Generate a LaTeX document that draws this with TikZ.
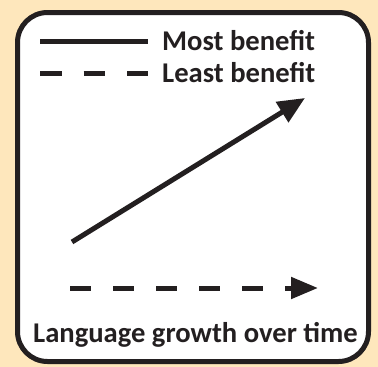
\documentclass[tikz,border=0pt]{standalone}
\usepackage{fontspec}
\setmainfont{Carlito}
\usetikzlibrary{arrows.meta}
\definecolor{bgbeige}{HTML}{FEE7BC}
\definecolor{ink}{HTML}{231F20}
\tikzset{
  lbl/.style={font=\bfseries\fontsize{28.6}{31}\selectfont, text=ink, inner sep=0pt},
  thick line/.style={draw=ink, line width=5pt},
  dashline/.style={thick line, dash pattern=on 21pt off 22pt},
  bigtip/.style={-{Triangle[length=27pt,width=23pt]}}
}
\begin{document}
\begin{tikzpicture}[x=1pt,y=-1pt]
\useasboundingbox (0,0) rectangle (378,367);
\fill[bgbeige] (0,0) rectangle (378,367);
\draw[ink, fill=white, line width=5pt, rounded corners=30pt] (17.5,12.5) rectangle (368.5,361.5);
% legend
\coordinate (s1) at (40,41);
\coordinate (s2) at (148,41);
\coordinate (d1) at (40,73);
\coordinate (d2) at (148,73);
\draw[thick line] (s1) -- (s2);
\draw[thick line, dash pattern=on 21.5pt off 22pt] (d1) -- (d2);
\node[lbl, anchor=base west] (most) at (162,50) {Most benefit};
\node[lbl, anchor=base west] (least) at (162,82) {Least benefit};
% arrows
\coordinate (a1) at (72,242);
\coordinate (a2) at (305,98);
\draw[thick line, bigtip] (a1) -- (a2);
\coordinate (b1) at (70,288);
\coordinate (b2) at (318,288);
\draw[dashline, -{Triangle[length=27pt,width=21pt]}] (b1) -- (b2);
\node[lbl, anchor=base] (xlab) at (195.5,342) {Language growth over time};
\end{tikzpicture}
\end{document}
